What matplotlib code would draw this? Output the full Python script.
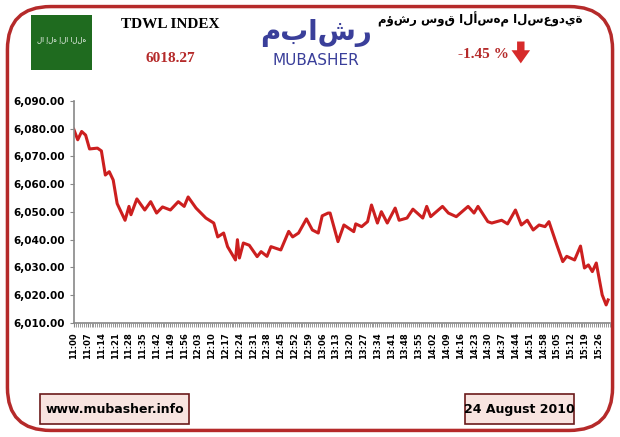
import matplotlib
matplotlib.use("Agg")
import matplotlib.pyplot as plt
from matplotlib.patches import FancyBboxPatch, Rectangle, FancyArrow
from matplotlib.ticker import FuncFormatter, MultipleLocator

minutes = [0,2,4,6,8,12,14,16,18,20,22,26,28,29,32,36,39,42,45,49,53,56,58,62,67,71,73,76,78,82,83,84,86,89,93,95,98,100,105,109,111,114,118,121,124,126,129,130,134,137,142,143,146,149,151,154,156,159,163,165,169,172,177,179,181,187,190,194,200,203,205,210,212,217,220,224,227,230,233,236,239,241,245,248,250,254,257,259,261,263,265,268,270,271]
values = [6079.8,6076,6079,6077.7,6072.7,6073,6072,6063.3,6064.5,6061.5,6053,6047,6052,6049,6054.7,6050.7,6053.7,6049.6,6051.8,6050.7,6053.7,6052,6055.4,6051.4,6047.8,6046,6041,6042.4,6037.5,6032.7,6040,6033.4,6038.8,6038,6033.9,6035.7,6034,6037.5,6036.3,6043,6041,6042.4,6047.5,6043.5,6042.4,6048.6,6049.6,6049.6,6039.3,6045.3,6042.9,6045.7,6044.7,6046.5,6052.5,6046,6050.1,6046,6051.4,6047,6047.8,6051,6047.8,6052,6048.3,6052,6049.6,6048.3,6052,6049.6,6052,6046.5,6046,6047,6045.7,6050.7,6045.3,6047,6043.5,6045.3,6044.7,6046.5,6038.1,6032.1,6034,6032.7,6037.7,6029.8,6030.9,6028.5,6031.6,6020.1,6016.5,6018.3]
tick_labels = ["%d:%02d" % ((660 + m) // 60, (660 + m) % 60) for m in range(0, 267, 7)]

fig = plt.figure(figsize=(6.2, 4.37), dpi=100)
fig.patch.set_facecolor("white")
frame = FancyBboxPatch((0.012, 0.015), 0.976, 0.97, boxstyle="round,pad=0,rounding_size=0.07",
                       transform=fig.transFigure, fc="white", ec="#b52a2a", lw=2.5, mutation_aspect=1.4,
                       zorder=-5)
fig.patches.append(frame)

ax = fig.add_axes([0.119, 0.261, 0.865, 0.508])
ax.set_zorder(5)
ax.patch.set_alpha(0)
ax.plot(minutes, values, color="#cc1f1f", lw=2.2)
ax.set_ylim(6010, 6090)
ax.set_xlim(0, 272)
ax.yaxis.set_major_locator(MultipleLocator(10))
ax.yaxis.set_major_formatter(FuncFormatter(lambda v, p: f"{v:,.2f}"))
ax.set_xticks(range(0, 267, 7))
ax.set_xticklabels(tick_labels, rotation=90, fontsize=6, fontweight="bold")
ax.xaxis.set_minor_locator(MultipleLocator(1))
ax.tick_params(axis="y", labelsize=7.5, length=3, color="#888")
ax.tick_params(axis="x", which="both", length=3, color="#888")
for l in ax.get_yticklabels():
    l.set_fontweight("bold")
for s in ("top", "right"):
    ax.spines[s].set_visible(False)
for s in ("left", "bottom"):
    ax.spines[s].set_color("#888")
    ax.spines[s].set_linewidth(1.2)

# header
fig.patches.append(Rectangle((0.05, 0.84), 0.098, 0.125, transform=fig.transFigure, fc="#1f6b1f", ec="none"))
fig.text(0.099, 0.91, "لا إله إلا الله", color="white", fontsize=5, ha="center", va="center")
fig.text(0.275, 0.945, "TDWL INDEX", fontsize=11, fontweight="bold", family="Liberation Serif", ha="center", va="center")
fig.text(0.275, 0.865, "6018.27", fontsize=11, fontweight="bold", color="#b52a2a", family="Liberation Serif", ha="center", va="center")
fig.text(0.51, 0.925, "مباشر", fontsize=20, color="#3a3f9a", ha="center", va="center", fontweight="bold")
fig.text(0.51, 0.862, "MUBASHER", fontsize=11, color="#3a3f9a", ha="center", va="center")
fig.text(0.775, 0.955, "مؤشر سوق الأسهم السعودية", fontsize=8.5, fontweight="bold", ha="center", va="center")
fig.text(0.78, 0.875, "-1.45 %", fontsize=11, fontweight="bold", color="#b52a2a", family="Liberation Serif", ha="center", va="center")
fig.patches.append(FancyArrow(0.84, 0.905, 0, -0.05, width=0.012, head_width=0.03, head_length=0.03,
                              length_includes_head=True, transform=fig.transFigure, fc="#d62a2a", ec="none"))

# footer boxes
for (x0, w, txt) in [(0.065, 0.24, "www.mubasher.info"), (0.75, 0.175, "24 August 2010")]:
    fig.patches.append(Rectangle((x0, 0.03), w, 0.068, transform=fig.transFigure, fc="#f8e4e0", ec="#6b1a1a", lw=1.2))
    fig.text(x0 + w / 2, 0.064, txt, fontsize=9, fontweight="bold", ha="center", va="center")

fig.savefig("out.png", dpi=100)
